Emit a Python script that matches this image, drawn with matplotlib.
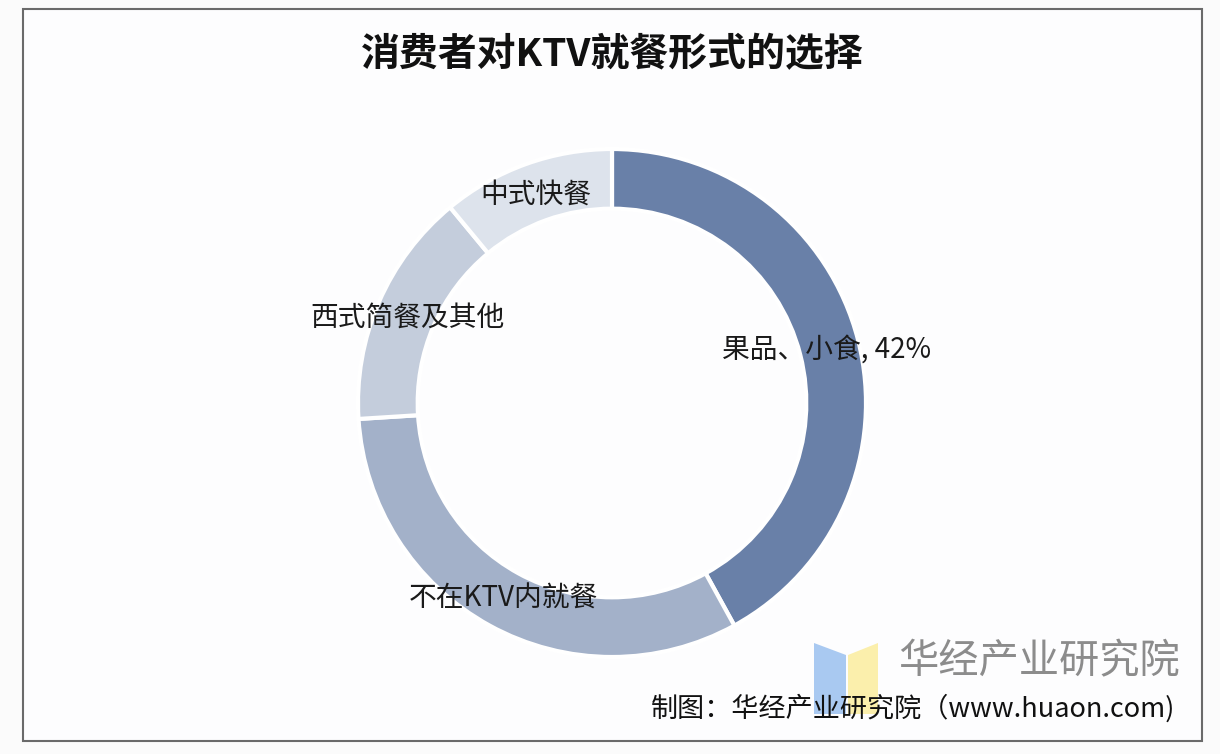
import matplotlib.pyplot as plt
from matplotlib.patches import Rectangle, Polygon

plt.rcParams['font.family'] = ['Noto Sans CJK SC', 'DejaVu Sans']

# 数据
labels = ['果品、小食, 42%', '不在KTV内就餐', '西式简餐及其他', '中式快餐']
shares = [42, 32, 15, 11]
colors = ['#6980a8', '#a3b1c9', '#c4cddc', '#dde3ec']
# 标签位置（轴坐标，圆心为0,0）
label_pos = [(0.846, 0.209), (-0.429, -0.772), (-0.807, 0.335), (-0.299, 0.819)]

W, H = 1220, 754
fig = plt.figure(figsize=(W / 100, H / 100), dpi=100)
fig.patch.set_facecolor('#fbfbfb')

# 外框
fig.patches.append(Rectangle((23 / W, 1 - 741 / H), (1202 - 23) / W, (741 - 9) / H,
                             transform=fig.transFigure, facecolor='#fdfdfe',
                             edgecolor='#6a6a6a', linewidth=1.5, zorder=-5))

cx, cy, r = 612, 403, 254
ax = fig.add_axes([(cx - r) / W, 1 - (cy + r) / H, 2 * r / W, 2 * r / H], zorder=2)
ax.patch.set_alpha(0)
ax.pie(shares, colors=colors, startangle=90, counterclock=False, radius=1,
       wedgeprops=dict(width=0.235, edgecolor='white', linewidth=3))
ax.set_xlim(-1, 1)
ax.set_ylim(-1, 1)
ax.set_aspect('equal')
ax.axis('off')

for lab, (x, y) in zip(labels, label_pos):
    ax.text(x, y, lab, ha='center', va='center', fontsize=20, color='#1a1a1a')

fig.text(612 / W, 1 - 55 / H, '消费者对KTV就餐形式的选择', ha='center', va='center',
         fontsize=28, fontweight='bold', color='#111111')

# 水印 logo
fig.patches.append(Polygon([(814 / W, 1 - 643 / H), (846 / W, 1 - 655 / H),
                            (846 / W, 1 - 714 / H), (814 / W, 1 - 714 / H)],
                           closed=True, transform=fig.transFigure,
                           facecolor='#a9c9f1', edgecolor='none', zorder=1))
fig.patches.append(Polygon([(848 / W, 1 - 655 / H), (878 / W, 1 - 643 / H),
                            (878 / W, 1 - 714 / H), (848 / W, 1 - 714 / H)],
                           closed=True, transform=fig.transFigure,
                           facecolor='#fbefac', edgecolor='none', zorder=1))
fig.text(1039 / W, 1 - 662 / H, '华经产业研究院', ha='center', va='center',
         fontsize=29, color='#8c8c8c', zorder=3)

fig.text(1175 / W, 1 - 708 / H, '制图：华经产业研究院（www.huaon.com)', ha='right',
         va='center', fontsize=19.5, color='#111111', zorder=4)

fig.savefig('out.png', dpi=100, facecolor=fig.get_facecolor())
